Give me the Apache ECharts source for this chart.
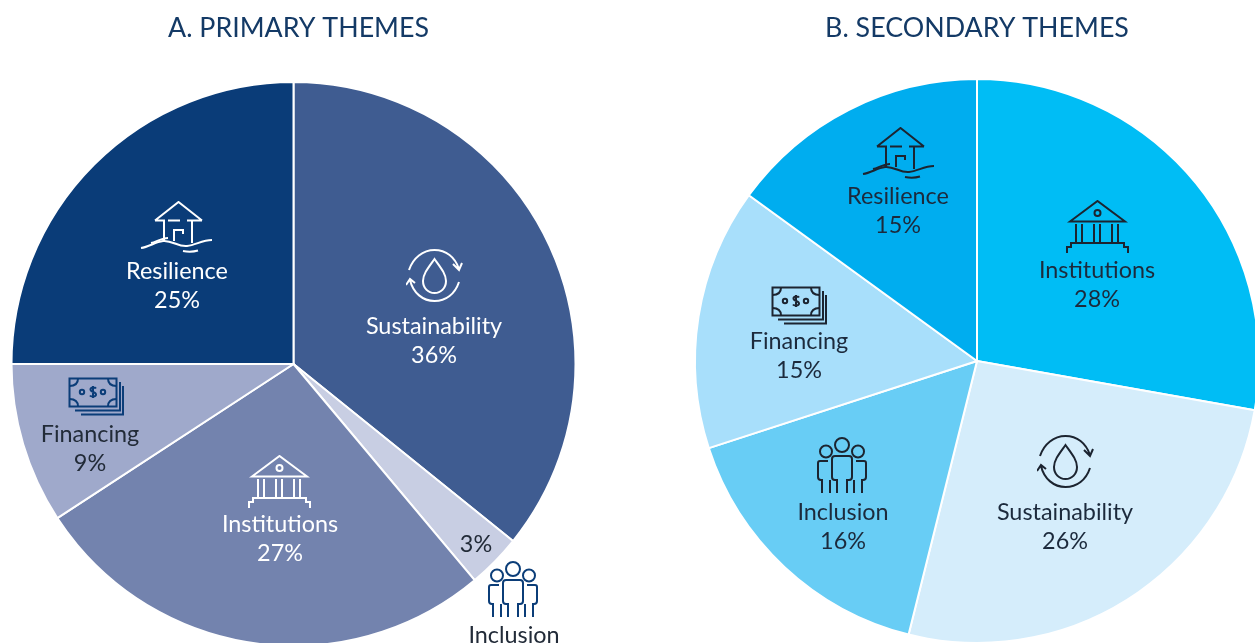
<!DOCTYPE html>
<html><head><meta charset="utf-8">
<style>html,body{margin:0;padding:0;background:#fff}#c{width:1255px;height:643px}</style>
<script src="https://cdn.jsdelivr.net/npm/echarts@6/dist/echarts.min.js"></script>
</head><body><div id="c"></div>
<script>
// ---- data ----
const titleA = 'A. PRIMARY THEMES';
const titleB = 'B. SECONDARY THEMES';
const namesA = ['Sustainability','Inclusion','Institutions','Financing','Resilience'];
const valuesA = [35.8,3.1,26.9,9.2,25];
const namesB = ['Institutions','Sustainability','Inclusion','Financing','Resilience'];
const valuesB = [27.8,26.1,16.1,15,15];
const coloursA = ['#3f5c91','#c8cee3','#7383ae','#9fa9cb','#0a3c78'];
const coloursB = ['#00bdf5','#d5edfb','#68cdf5','#a8dffb','#00adef'];

// ---- layout (label centres and icon boxes, pixels) ----
const labelA = {Sustainability:[434,341],Inclusion:[476,544],Institutions:[280,539],Financing:[90,449],Resilience:[177,286]};
const labelB = {Institutions:[1097,285],Sustainability:[1065,527],Inclusion:[843,527],Financing:[799,356],Resilience:[898,211]};
const iconsA = [['drop',406,249,'#ffffff'],['people',488,561,'#0b3d78'],['bank',248,455,'#ffffff'],['money',68,377,'#0b3d78'],['house',140,201,'#ffffff']];
const iconsB = [['bank',1066,200,'#1c2430'],['drop',1037,435,'#1c2430'],['people',817,437,'#1c2430'],['money',771,286,'#1c2430'],['house',862,127,'#1c2430']];

const shapes = {
 house:{w:74,h:54,d:`<path d="M15 19.5 38.500 1 62 19.5M15 19.5H25M28 19.5H40M47 19.5H62"/><path d="M24 20V40M52 20V42M34 40V29H43V33"/>
  <path d="M1 47C9 46 15 41 23 40C32 39 38 46 47 45C56 44 62 39 72 39"/><path d="M11 42C16 41 22 37 28 37M43 50C48 51 53 51 58 49.500"/>`},
 bank:{w:63,h:54,d:`<path d="M4 21.5 31.5 1 59 21.5Z"/><circle cx="31.5" cy="13" r="3"/>
  <path d="M10 24V43M16 24V43M28 24V43M34 24V43M46 24V43M52 24V43"/><path d="M1 53V47H5V43H58V47H62V53"/>`},
 drop:{w:58,h:54,d:`<path d="M28.5 10C22 19 17 25 17 32C17 39 22 44 28.5 44C35 44 40 39 40 32C40 25 35 19 28.5 10Z"/>
  <path d="M3 21C7 9 17 1 28.5 1C40 1 49 8 53 20M47 15 53 21 56 14"/><path d="M53 33C49 45 40 52 28.5 52C17 52 7 44 4 31M0 36 4 30 9 34"/>`},
 money:{w:56,h:39,d:`<rect x="1.5" y="1.5" width="47" height="28"/><path d="M1.5 9C7 9 10 6 10 1.5M40 1.5C40 6 43 9 48.5 9M1.5 22C7 22 10 25 10 29.5M48.5 22C43 22 40 25 40 29.5"/>
  <circle cx="14" cy="15" r="2.2"/><circle cx="35" cy="15" r="2.2"/><path d="M52 5V33.5H7M55 9V37.5H13"/><path d="M28 11.5C27 10 22.5 10 22.5 12.5C22.5 15.5 28 14.5 28 17.5C28 20 23 20 22 18.500M25 9V21"/>`},
 people:{w:50,h:57,d:`<circle cx="25" cy="8" r="7"/><circle cx="9" cy="14.500" r="6"/><circle cx="41" cy="14.500" r="6"/>
  <path d="M20 56V43H18Q15 43 15 40V22Q15 19 18 19H32Q35 19 35 22V40Q35 43 32 43H30V56"/>
  <path d="M11 24H3Q1 24 1 26V40Q1 43 4 43H5V56M13 43V56M39 24H47Q49 24 49 26V40Q49 43 46 43H45V56M37 43V56"/>`}
};
function img(kind,x,y,col){
  const s=shapes[kind];
  const svg=`<svg xmlns="http://www.w3.org/2000/svg" width="${s.w*2}" height="${s.h*2}" viewBox="0 0 ${s.w} ${s.h}"><g fill="none" stroke="${col}" stroke-width="2" stroke-linejoin="miter" stroke-linecap="butt">${s.d}</g></svg>`;
  return {type:'image',z:20,style:{image:'data:image/svg+xml;charset=utf-8,'+encodeURIComponent(svg),x,y,width:s.w,height:s.h}};
}
function pie(center,names,values,colours,pos,textCols){
  return {type:'pie',center,radius:282,startAngle:90,clockwise:true,silent:true,animation:false,
    labelLine:{show:false},
    itemStyle:{borderColor:'#fff',borderWidth:2},
    label:{show:true,position:'inside',fontFamily:'Lato',fontSize:23.4,lineHeight:29,align:'center',
      formatter:p=>(p.name==='Inclusion'&&p.value<5)?Math.round(p.value)+'%':p.name+'\n'+Math.round(p.value)+'%'},
    labelLayout:p=>{const n=names[p.dataIndex];const q=pos[n];return {x:q[0],y:q[1],align:'center',verticalAlign:'middle'};},
    data:names.map((n,i)=>({name:n,value:values[i],itemStyle:{color:colours[i]},label:{color:textCols[i]}}))};
}
const chart=echarts.init(document.getElementById('c'));
const tA=['#fff','#222b38','#fff','#222b38','#fff'];
const tB=['#1c2a3c','#1c2a3c','#1c2a3c','#1c2a3c','#1c2a3c'];
chart.setOption({
  animation:false,
  series:[pie([293.5,364],namesA,valuesA,coloursA,labelA,tA),pie([977,361],namesB,valuesB,coloursB,labelB,tB)],
  graphic:[...iconsA,...iconsB].map(a=>img(a[0],a[1],a[2],a[3])).concat([
    {type:'text',z:20,style:{text:namesA[1],x:514,y:635,align:'center',verticalAlign:'middle',font:'23.4px Lato',fill:'#222b38'}},
    {type:'text',z:20,style:{text:titleA,x:298.5,y:28,align:'center',verticalAlign:'middle',font:'26.8px Lato',fill:'#143a66'}},
    {type:'text',z:20,style:{text:titleB,x:977,y:28,align:'center',verticalAlign:'middle',font:'26.8px Lato',fill:'#143a66'}}
  ])
});
</script></body></html>
